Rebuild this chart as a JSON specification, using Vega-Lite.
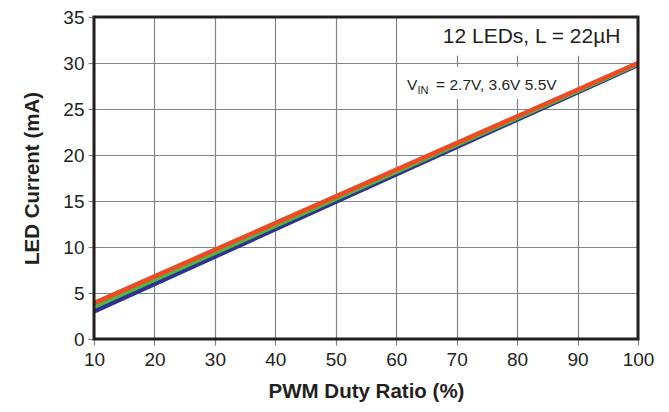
{
  "$schema": "https://vega.github.io/schema/vega-lite/v6.json",
  "width": 544,
  "height": 322,
  "autosize": {"type": "none"},
  "padding": {"left": 94, "top": 17, "right": 31, "bottom": 73},
  "background": "white",
  "config": {
    "font": "Liberation Sans",
    "view": {"stroke": null},
    "axis": {
      "domain": false,
      "grid": true,
      "gridColor": "#7d858b",
      "gridWidth": 1.2,
      "tickColor": "#7d858b",
      "tickWidth": 1.2,
      "tickSize": 6,
      "labelFont": "Liberation Sans",
      "labelFontSize": 19,
      "labelColor": "#231f20",
      "labelFlush": false,
      "titleFont": "Liberation Sans",
      "titleFontSize": 20.5,
      "titleFontWeight": "bold",
      "titleColor": "#231f20"
    }
  },
  "datasets": {
    "curves": [
      {"duty": 10, "current": 3.0, "vin": "2.7V"},
      {"duty": 100, "current": 29.8, "vin": "2.7V"},
      {"duty": 10, "current": 3.5, "vin": "3.6V"},
      {"duty": 100, "current": 29.9, "vin": "3.6V"},
      {"duty": 10, "current": 3.9, "vin": "5.5V"},
      {"duty": 100, "current": 30.0, "vin": "5.5V"}
    ],
    "boxes": [
      {"x1": 60.8, "x2": 100, "y1": 30.8, "y2": 35},
      {"x1": 60.8, "x2": 87.9, "y1": 26.1, "y2": 29.6}
    ],
    "frame": [
      {"x1": 10, "x2": 100, "y1": 0, "y2": 35}
    ],
    "labels": [
      {"duty": 97.1, "current": 32.2, "text": "12 LEDs, L = 22µH", "kind": "main"},
      {"duty": 61.8, "current": 27.07, "text": "V", "kind": "vin"},
      {"duty": 66.6, "current": 27.07, "text": "= 2.7V, 3.6V 5.5V", "kind": "vin"}
    ],
    "subs": [
      {"duty": 63.5, "current": 26.63, "text": "IN"}
    ]
  },
  "layer": [
    {
      "data": {"name": "boxes"},
      "mark": {"type": "rect", "fill": "white", "stroke": null},
      "encoding": {
        "x": {"field": "x1", "type": "quantitative", "scale": {"domain": [10, 100], "nice": false, "zero": false},
          "axis": {"values": [10, 20, 30, 40, 50, 60, 70, 80, 90, 100], "labelPadding": 5, "titlePadding": 12, "title": "PWM Duty Ratio (%)"}},
        "x2": {"field": "x2"},
        "y": {"field": "y1", "type": "quantitative", "scale": {"domain": [0, 35], "nice": false},
          "axis": {"values": [0, 5, 10, 15, 20, 25, 30, 35], "labelPadding": 4, "titlePadding": 20, "title": "LED Current (mA)"}},
        "y2": {"field": "y2"}
      }
    },
    {
      "data": {"name": "curves"},
      "mark": {"type": "line", "strokeWidth": 4.5, "strokeCap": "butt"},
      "encoding": {
        "x": {"field": "duty", "type": "quantitative"},
        "y": {"field": "current", "type": "quantitative"},
        "color": {"field": "vin", "type": "nominal", "legend": null,
          "scale": {"domain": ["2.7V", "3.6V", "5.5V"], "range": ["#2e3192", "#4db848", "#ef4b23"]}}
      }
    },
    {
      "data": {"name": "labels"},
      "transform": [{"filter": "datum.kind == 'main'"}],
      "mark": {"type": "text", "align": "right", "baseline": "alphabetic", "fontSize": 21, "color": "#231f20", "font": "Liberation Sans"},
      "encoding": {
        "x": {"field": "duty", "type": "quantitative"},
        "y": {"field": "current", "type": "quantitative"},
        "text": {"field": "text"}
      }
    },
    {
      "data": {"name": "labels"},
      "transform": [{"filter": "datum.kind == 'vin'"}],
      "mark": {"type": "text", "align": "left", "baseline": "alphabetic", "fontSize": 15.5, "color": "#231f20", "font": "Liberation Sans"},
      "encoding": {
        "x": {"field": "duty", "type": "quantitative"},
        "y": {"field": "current", "type": "quantitative"},
        "text": {"field": "text"}
      }
    },
    {
      "data": {"name": "subs"},
      "mark": {"type": "text", "align": "left", "baseline": "alphabetic", "fontSize": 11, "color": "#231f20", "font": "Liberation Sans"},
      "encoding": {
        "x": {"field": "duty", "type": "quantitative"},
        "y": {"field": "current", "type": "quantitative"},
        "text": {"field": "text"}
      }
    },
    {
      "data": {"name": "frame"},
      "mark": {"type": "rect", "fill": null, "stroke": "#231f20", "strokeWidth": 3},
      "encoding": {
        "x": {"field": "x1", "type": "quantitative"},
        "x2": {"field": "x2"},
        "y": {"field": "y1", "type": "quantitative"},
        "y2": {"field": "y2"}
      }
    }
  ]
}
